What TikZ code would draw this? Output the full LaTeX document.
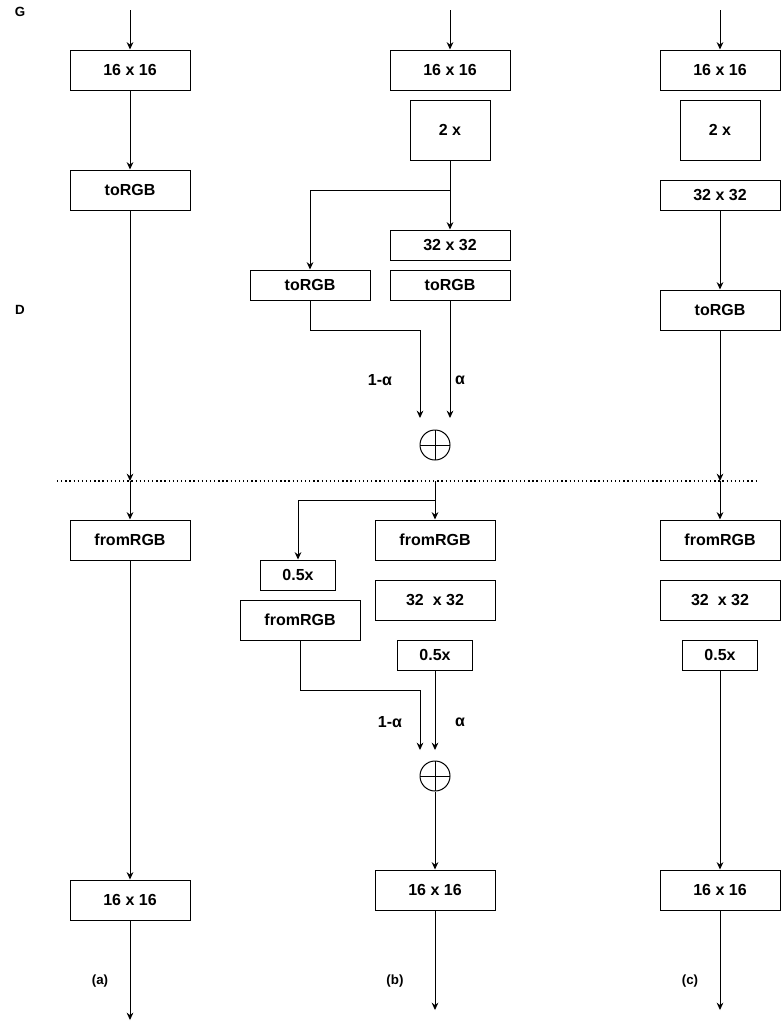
\documentclass[tikz,border=0pt]{standalone}
\usepackage{fontspec}
\setmainfont{Liberation Sans}
\usetikzlibrary{arrows.meta}
\begin{document}
\begin{tikzpicture}[x=0.75pt,y=-0.75pt,
  every node/.style={font=\fontsize{12pt}{14pt}\selectfont\bfseries},
  blk/.style={draw,line width=0.75pt,inner sep=0pt,minimum width=90pt,minimum height=30pt},
  thin/.style={blk,minimum height=22.5pt},
  up2/.style={blk,minimum width=60pt,minimum height=45pt},
  half/.style={blk,minimum width=56pt,minimum height=22.5pt},
  sumnode/.style={draw,circle,line width=0.75pt,inner sep=0pt,minimum size=22.5pt,
    path picture={\draw[line width=0.75pt] (path picture bounding box.north)--(path picture bounding box.south)
      (path picture bounding box.west)--(path picture bounding box.east);}},
  arr/.style={line width=0.75pt,-{Stealth[length=5.5pt,width=5pt]}},
  lbl/.style={font=\fontsize{10pt}{12pt}\selectfont\bfseries},
  coef/.style={font=\fontsize{12pt}{14pt}\selectfont\bfseries}]
\useasboundingbox (0,0) rectangle (781,1029);

% side labels
\node[lbl] (G) at (20,12) {G};
\node[lbl] (D) at (20,310) {D};

% dotted separator
\coordinate (sepL) at (57,481);
\coordinate (sepR) at (757,481);
\draw[line width=1pt,dash pattern=on 1pt off 2.1pt] (sepL) -- (sepR);

% ---------------- column (a) ----------------
\coordinate (atop) at (130,10);
\node[blk] (a1) at (130,70) {16 x 16};
\node[blk] (a2) at (130,190) {toRGB};
\coordinate (ad) at (130,481);
\node[blk] (a3) at (130,540) {fromRGB};
\node[blk] (a4) at (130,900) {16 x 16};
\coordinate (aend) at (130,1020);
\draw[arr] (atop) -- (a1);
\draw[arr] (a1) -- (a2);
\draw[arr] (a2) -- (ad);
\draw[arr] (ad) -- (a3);
\draw[arr] (a3) -- (a4);
\draw[arr] (a4) -- (aend);
\node[lbl] (la) at (100,981) {(a)};

% ---------------- column (b) top ----------------
\coordinate (btop) at (450,10);
\node[blk] (b1) at (450,70) {16 x 16};
\node[up2] (b2) at (450,130) {2 x};
\node[thin] (b3) at (450,245) {32 x 32};
\node[thin] (b4) at (310,285) {toRGB};
\node[thin] (b5) at (450,285) {toRGB};
\node[sumnode] (bs1) at (435,445) {};
\coordinate (bbr) at (450,190);
\coordinate (bk1) at (310,330);
\coordinate (bl1) at (420,418);
\coordinate (br1) at (450,418);
\draw[arr] (btop) -- (b1);
\draw[arr] (b2) -- (b3);
\draw[arr] (bbr) -| (b4.north);
\draw[arr] (b4.south) -- (bk1) -| (bl1);
\draw[arr] (b5.south) -- (br1);
\node[coef] (c1a) at (380,380) {1-α};
\node[coef] (c1b) at (460,380) {α};

% ---------------- column (b) bottom ----------------
\coordinate (bd) at (435,481);
\coordinate (bbr2) at (435,500);
\node[blk] (b6) at (435,540) {fromRGB};
\node[blk] (b7) at (435,600) {32\ \ x 32};
\node[half] (b8) at (435,655) {0.5x};
\node[half] (b9) at (298,575) {0.5x};
\node[blk] (b10) at (300,620) {fromRGB};
\node[sumnode] (bs2) at (435,776) {};
\node[blk] (b11) at (435,890) {16 x 16};
\coordinate (bk2) at (300,690);
\coordinate (bl2) at (420,750);
\coordinate (br2) at (435,750);
\coordinate (bend) at (435,1010);
\draw[arr] (bd) -- (b6);
\draw[arr] (bbr2) -| (b9.north);
\draw[arr] (b10.south) -- (bk2) -| (bl2);
\draw[arr] (b8.south) -- (br2);
\draw[arr] (bs2) -- (b11);
\draw[arr] (b11) -- (bend);
\node[coef] (c2a) at (390,722) {1-α};
\node[coef] (c2b) at (460,722) {α};
\node[lbl] (lb) at (395,981) {(b)};

% ---------------- column (c) ----------------
\coordinate (ctop) at (720,10);
\node[blk] (k1) at (720,70) {16 x 16};
\node[up2] (k2) at (720,130) {2 x};
\node[thin] (k3) at (720,195) {32 x 32};
\node[blk] (k4) at (720,310) {toRGB};
\coordinate (cd) at (720,481);
\node[blk] (k5) at (720,540) {fromRGB};
\node[blk] (k6) at (720,600) {32\ \ x 32};
\node[half] (k7) at (720,655) {0.5x};
\node[blk] (k8) at (720,890) {16 x 16};
\coordinate (cend) at (720,1010);
\draw[arr] (ctop) -- (k1);
\draw[arr] (k3) -- (k4);
\draw[arr] (k4) -- (cd);
\draw[arr] (cd) -- (k5);
\draw[arr] (k7) -- (k8);
\draw[arr] (k8) -- (cend);
\node[lbl] (lc) at (690,981) {(c)};
\end{tikzpicture}
\end{document}
